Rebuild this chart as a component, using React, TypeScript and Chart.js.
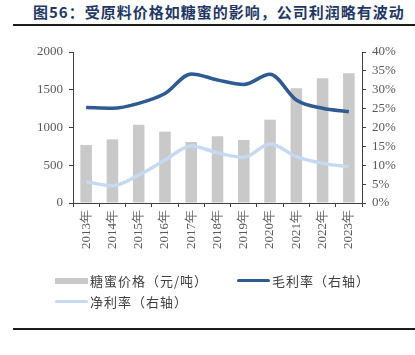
import React, { useEffect, useRef } from "react";
import { Chart, registerables } from "chart.js";

Chart.register(...registerables);

const categories = ["2013年", "2014年", "2015年", "2016年", "2017年", "2018年", "2019年", "2020年", "2021年", "2022年", "2023年"];
const molassesPrice = [768, 843, 1037, 945, 808, 883, 834, 1103, 1519, 1652, 1718];
const grossMargin = [25.3, 25.1, 26.4, 29.0, 34.2, 32.6, 31.4, 34.1, 27.3, 25.1, 24.2];
const netMargin = [5.6, 4.6, 7.4, 11.4, 15.1, 13.3, 12.1, 15.6, 12.3, 10.5, 9.6];
const leftTicks = [0, 500, 1000, 1500, 2000];
const rightTicks = [0, 5, 10, 15, 20, 25, 30, 35, 40];

const title = "图56：受原料价格如糖蜜的影响，公司利润略有波动";
const legendLabels = ["糖蜜价格（元/吨）", "毛利率（右轴）", "净利率（右轴）"];

const BAR = "#c9c9c9";
const GROSS = "#2f5a92";
const NET = "#c5d9f1";
const TICK = "#595959";
const AXIS = "#404040";
const tickFont = { family: "'Liberation Serif', 'DejaVu Serif', serif", size: 13 };

export default function App() {
  const ref = useRef<HTMLCanvasElement | null>(null);

  useEffect(() => {
    document.body.style.margin = "0";
    const ctx = ref.current!.getContext("2d")!;
    const chart = new Chart(ctx, {
      type: "bar",
      data: {
        labels: categories,
        datasets: [
          {
            type: "line",
            label: legendLabels[1],
            data: grossMargin,
            yAxisID: "y1",
            borderColor: GROSS,
            backgroundColor: GROSS,
            borderWidth: 3.5,
            pointRadius: 0,
            tension: 0.4,
            cubicInterpolationMode: "monotone",
            order: 1,
          },
          {
            type: "line",
            label: legendLabels[2],
            data: netMargin,
            yAxisID: "y1",
            borderColor: NET,
            backgroundColor: NET,
            borderWidth: 3.5,
            pointRadius: 0,
            tension: 0.4,
            cubicInterpolationMode: "monotone",
            order: 2,
          },
          {
            type: "bar",
            label: legendLabels[0],
            data: molassesPrice,
            yAxisID: "y",
            backgroundColor: BAR,
            categoryPercentage: 1,
            barPercentage: 0.44,
            order: 3,
          },
        ],
      },
      options: {
        responsive: false,
        animation: false,
        layout: { padding: { top: 52, left: 0, right: 0, bottom: 0 } },
        plugins: { legend: { display: false }, tooltip: { enabled: false } },
        scales: {
          x: {
            offset: true,
            grid: { display: true, drawOnChartArea: false, drawTicks: true, tickLength: 4, color: AXIS, offset: true },
            border: { display: true, color: AXIS, width: 1 },
            ticks: { color: TICK, font: tickFont, minRotation: 90, maxRotation: 90, padding: 3, autoSkip: false },
            afterFit: (s: any) => { s.height = 152; },
          },
          y: {
            position: "left",
            min: 0,
            max: 2000,
            afterBuildTicks: (s: any) => { s.ticks = leftTicks.map((v) => ({ value: v })); },
            grid: { display: true, drawOnChartArea: false, drawTicks: true, tickLength: 4, color: AXIS },
            border: { display: true, color: AXIS, width: 1 },
            ticks: { color: TICK, font: tickFont, padding: 6, callback: (v: any) => String(v) },
            afterFit: (s: any) => { s.width = 73; },
          },
          y1: {
            position: "right",
            min: 0,
            max: 40,
            afterBuildTicks: (s: any) => { s.ticks = rightTicks.map((v) => ({ value: v })); },
            grid: { display: true, drawOnChartArea: false, drawTicks: true, tickLength: 4, color: AXIS },
            border: { display: true, color: AXIS, width: 1 },
            ticks: { color: TICK, font: tickFont, padding: 6, callback: (v: any) => v + "%" },
            afterFit: (s: any) => { s.width = 53; },
          },
        },
      },
    } as any);
    return () => chart.destroy();
  }, []);

  const legendText: React.CSSProperties = {
    position: "absolute",
    fontFamily: "'Noto Sans CJK SC', sans-serif",
    fontSize: 13,
    letterSpacing: 1,
    color: "#404040",
    lineHeight: "16px",
    whiteSpace: "nowrap",
  };

  return (
    <div style={{ position: "absolute", left: 0, top: 0, width: 415, height: 355, background: "#fff", overflow: "hidden" }}>
      <div
        style={{
          position: "absolute",
          left: 33,
          top: 2,
          fontFamily: "'Noto Sans CJK SC', sans-serif",
          fontWeight: 700,
          fontSize: 15,
          letterSpacing: 1,
          color: "#1f3864",
          whiteSpace: "nowrap",
          lineHeight: "20px",
        }}
      >
        {title}
      </div>
      <div style={{ position: "absolute", left: 13, top: 24, width: 402, height: 2, background: "#1a1a1a" }} />
      <canvas ref={ref} width={415} height={355} style={{ position: "absolute", left: 0, top: 0 }} />
      <div style={{ position: "absolute", left: 55, top: 278, width: 33, height: 6, background: BAR }} />
      <div style={{ ...legendText, left: 90, top: 273 }}>{legendLabels[0]}</div>
      <div style={{ position: "absolute", left: 237, top: 279, width: 33, height: 3, background: GROSS, borderRadius: 2 }} />
      <div style={{ ...legendText, left: 272, top: 273 }}>{legendLabels[1]}</div>
      <div style={{ position: "absolute", left: 55, top: 300, width: 33, height: 3, background: NET, borderRadius: 2 }} />
      <div style={{ ...legendText, left: 90, top: 294 }}>{legendLabels[2]}</div>
      <div style={{ position: "absolute", left: 13, top: 328, width: 402, height: 2, background: "#1a1a1a" }} />
    </div>
  );
}
